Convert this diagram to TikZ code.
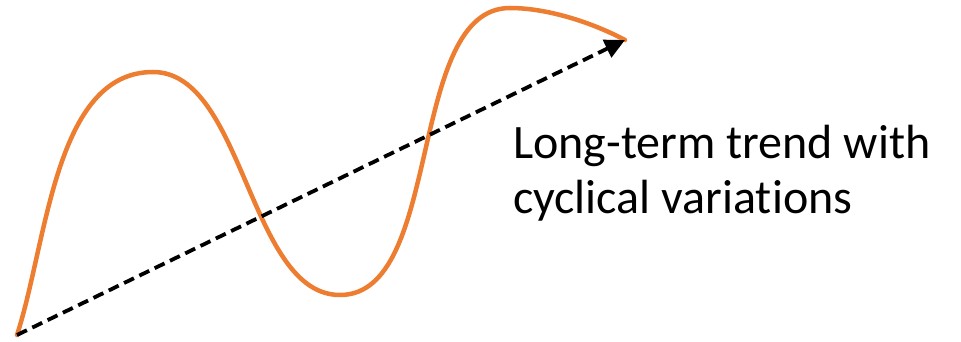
\documentclass[tikz,border=0pt]{standalone}
\usepackage{fontspec}
\setmainfont{Carlito}[Ligatures=NoCommon]
\usetikzlibrary{arrows.meta}
\definecolor{curveorange}{HTML}{ED7D31}
\tikzset{
  wave/.style={draw=curveorange, line width=4.5pt, line cap=round},
  trend/.style={draw=black, line width=3.8pt, dash pattern=on 11pt off 6pt, -{Triangle[length=20pt,width=19pt]}},
  lbl/.style={font=\fontsize{48}{55}\selectfont, inner sep=0pt, anchor=base west}
}
\begin{document}
\begin{tikzpicture}[x=1pt,y=-1pt]
\useasboundingbox (0,0) rectangle (961,342);
\coordinate (s) at (17,335);
\coordinate (p1) at (153,72);
\coordinate (t1) at (340,295);
\coordinate (p2) at (510,8);
\coordinate (e) at (625,40);
\draw[wave] (s) to[out=72,in=180,looseness=0.85] (p1)
  to[out=0,in=180,looseness=0.8] (t1)
  to[out=0,in=180,looseness=0.8] (p2)
  to[out=0,in=152,looseness=0.8] (e);
\draw[trend] (s) -- (e);
\node[lbl] (l1) at (513,158) {Long-term trend with};
\node[lbl] (l2) at (513,213) {cyclical variations};
\end{tikzpicture}
\end{document}
